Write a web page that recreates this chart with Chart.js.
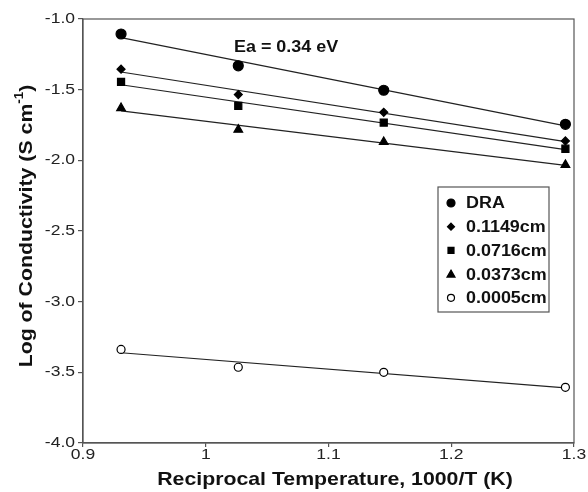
<!DOCTYPE html>
<html>
<head>
<meta charset="utf-8">
<script src="https://cdn.jsdelivr.net/npm/chart.js@4.4.0/dist/chart.umd.min.js"></script>
<style>
  html, body { margin: 0; padding: 0; background: #fff; }
  #wrap { width: 588px; height: 492px; }
</style>
</head>
<body>
<div id="wrap"><canvas id="myChart" width="588" height="492"></canvas></div>
<script>
// reciprocal temperature, 1000/T
const xValues = [0.931, 1.0265, 1.145, 1.293];
// log conductivity per sample
const seriesNames = ['DRA', '0.1149cm', '0.0716cm', '0.0373cm', '0.0005cm'];
const dra = [-1.106, -1.331, -1.504, -1.745];
const cm1149 = [-1.355, -1.535, -1.660, -1.863];
const cm0716 = [-1.445, -1.615, -1.733, -1.918];
const cm0373 = [-1.630, -1.783, -1.870, -2.032];
const cm0005 = [-3.338, -3.464, -3.500, -3.606];
const xTicks = [0.9, 1, 1.1, 1.2, 1.3];
const xTickLabels = ['0.9', '1', '1.1', '1.2', '1.3'];
const yTicks = [-4.0, -3.5, -3.0, -2.5, -2.0, -1.5, -1.0];
const yTickLabels = ['-4.0', '-3.5', '-3.0', '-2.5', '-2.0', '-1.5', '-1.0'];
const annotationText = 'Ea = 0.34 eV';

const allSeries = [dra, cm1149, cm0716, cm0373, cm0005];
const markers = [
    { style: 'circle', radius: 5, fill: '#000' },
    { style: 'rectRot', radius: 4, fill: '#000' },
    { style: 'rect', radius: 5, fill: '#000' },
    { style: 'triangle', radius: 5, fill: '#000' },
    { style: 'circle', radius: 4, fill: '#fff' }
];

// least squares fit, drawn between first and last x
function fitLine(xs, ys) {
    const n = xs.length;
    const mx = xs.reduce((a, b) => a + b, 0) / n;
    const my = ys.reduce((a, b) => a + b, 0) / n;
    let sxy = 0, sxx = 0;
    for (let i = 0; i < n; i++) {
        sxy += (xs[i] - mx) * (ys[i] - my);
        sxx += (xs[i] - mx) * (xs[i] - mx);
    }
    const b = sxy / sxx;
    const x0 = xs[0], x1 = xs[n - 1];
    return [{ x: x0, y: my + b * (x0 - mx) }, { x: x1, y: my + b * (x1 - mx) }];
}

const datasets = [];
allSeries.forEach((ys, i) => {
    datasets.push({
        type: 'scatter',
        label: seriesNames[i],
        data: ys.map((y, j) => ({ x: xValues[j], y: y })),
        pointStyle: markers[i].style,
        pointRadius: markers[i].radius,
        pointHoverRadius: markers[i].radius,
        pointBackgroundColor: markers[i].fill,
        pointBorderColor: '#000',
        pointBorderWidth: 1.2,
        order: 1
    });
});
allSeries.forEach((ys, i) => {
    datasets.push({
        type: 'line',
        label: seriesNames[i] + ' fit',
        data: fitLine(xValues, ys),
        borderColor: '#222',
        borderWidth: 1.2,
        pointRadius: 0,
        fill: false,
        order: 2
    });
});

const FONT = "'Liberation Sans', Arial, sans-serif";
const STRETCH = 1.12; // text in the original is a bit wide
const TICK_STRETCH = 1.25;

function drawMarker(ctx, style, x, y, r, fill) {
    ctx.save();
    ctx.fillStyle = fill;
    ctx.strokeStyle = '#000';
    ctx.lineWidth = 1.2;
    ctx.beginPath();
    if (style === 'circle') {
        ctx.arc(x, y, r, 0, Math.PI * 2);
    } else if (style === 'rect') {
        ctx.rect(x - r, y - r, r * 2, r * 2);
    } else if (style === 'rectRot') {
        ctx.moveTo(x, y - r); ctx.lineTo(x + r, y); ctx.lineTo(x, y + r); ctx.lineTo(x - r, y);
        ctx.closePath();
    } else if (style === 'triangle') {
        ctx.moveTo(x, y - r); ctx.lineTo(x + r, y + r * 0.75); ctx.lineTo(x - r, y + r * 0.75);
        ctx.closePath();
    }
    ctx.fill();
    ctx.stroke();
    ctx.restore();
}

// horizontally widened text; align: 'left' | 'center' | 'right'
function wideText(ctx, text, x, y, sx, align) {
    const w = ctx.measureText(text).width * sx;
    let left = x;
    if (align === 'center') left = x - w / 2;
    if (align === 'right') left = x - w;
    ctx.save();
    ctx.translate(left, y);
    ctx.scale(sx, 1);
    ctx.textAlign = 'left';
    ctx.fillText(text, 0, 0);
    ctx.restore();
}

const extras = {
    id: 'extras',
    afterDraw(chart) {
        const ctx = chart.ctx;
        const a = chart.chartArea;
        const xs = chart.scales.x, ys = chart.scales.y;
        ctx.save();
        // frame
        ctx.strokeStyle = '#555';
        ctx.lineWidth = 1.2;
        ctx.strokeRect(a.left, a.top, a.right - a.left, a.bottom - a.top);

        // tick labels
        ctx.fillStyle = '#222';
        ctx.font = '14px ' + FONT;
        ctx.textBaseline = 'middle';
        yTicks.forEach((v, i) => {
            wideText(ctx, yTickLabels[i], a.left - 8, ys.getPixelForValue(v), TICK_STRETCH, 'right');
        });
        xTicks.forEach((v, i) => {
            wideText(ctx, xTickLabels[i], xs.getPixelForValue(v), a.bottom + 12, TICK_STRETCH, 'center');
        });

        // activation energy label
        ctx.fillStyle = '#111';
        ctx.font = 'bold 16px ' + FONT;
        wideText(ctx, annotationText, xs.getPixelForValue(1.023), ys.getPixelForValue(-1.201), STRETCH, 'left');

        // legend box
        const lx = 438, ly = 187, lw = 111, lh = 125;
        ctx.fillStyle = '#fff';
        ctx.fillRect(lx, ly, lw, lh);
        ctx.strokeStyle = '#555';
        ctx.lineWidth = 1.2;
        ctx.strokeRect(lx, ly, lw, lh);
        const legSizes = [4, 3.5, 3, 4, 3.5];
        seriesNames.forEach((name, i) => {
            const cy = 203 + i * 23.7;
            drawMarker(ctx, markers[i].style, 451, cy, legSizes[i], markers[i].fill);
            ctx.fillStyle = '#111';
            ctx.font = 'bold 16px ' + FONT;
            wideText(ctx, name, 466, cy + 1, STRETCH, 'left');
        });

        // x axis title
        ctx.fillStyle = '#111';
        ctx.font = 'bold 19px ' + FONT;
        wideText(ctx, 'Reciprocal Temperature, 1000/T (K)', 335, 480, STRETCH, 'center');

        // y axis title with superscript
        ctx.translate(27, 226);
        ctx.rotate(-Math.PI / 2);
        ctx.scale(STRETCH, 1);
        const main = 'Log of Conductivity (S cm';
        const sup = '-1';
        const tail = ')';
        const mainFont = 'bold 19px ' + FONT;
        const supFont = 'bold 12px ' + FONT;
        ctx.font = mainFont;
        const wMain = ctx.measureText(main).width;
        const wTail = ctx.measureText(tail).width;
        ctx.font = supFont;
        const wSup = ctx.measureText(sup).width;
        let sx = -(wMain + wSup + wTail) / 2;
        ctx.textAlign = 'left';
        ctx.font = mainFont;
        ctx.fillText(main, sx, 0);
        sx += wMain;
        ctx.font = supFont;
        ctx.fillText(sup, sx, -7);
        sx += wSup;
        ctx.font = mainFont;
        ctx.fillText(tail, sx, 0);
        ctx.restore();
    }
};

new Chart(document.getElementById('myChart').getContext('2d'), {
    type: 'scatter',
    data: { datasets: datasets },
    plugins: [extras],
    options: {
        responsive: false,
        animation: false,
        events: [],
        layout: { padding: { top: 19, right: 14, left: 0, bottom: 0 } },
        plugins: {
            legend: { display: false },
            tooltip: { enabled: false }
        },
        scales: {
            x: {
                type: 'linear',
                min: 0.9,
                max: 1.3,
                afterBuildTicks: (scale) => { scale.ticks = xTicks.map(v => ({ value: v })); },
                afterFit: (scale) => { scale.height = 49; },
                grid: { drawOnChartArea: false, drawTicks: true, tickLength: 4, color: '#555', lineWidth: 1.2 },
                border: { display: true, color: '#555', width: 1.2 },
                ticks: { display: false }
            },
            y: {
                type: 'linear',
                min: -4,
                max: -1,
                afterBuildTicks: (scale) => { scale.ticks = yTicks.map(v => ({ value: v })); },
                afterFit: (scale) => { scale.width = 83; },
                grid: { drawOnChartArea: false, drawTicks: true, tickLength: 5, color: '#555', lineWidth: 1.2 },
                border: { display: true, color: '#555', width: 1.2 },
                ticks: { display: false }
            }
        }
    }
});
</script>
</body>
</html>
